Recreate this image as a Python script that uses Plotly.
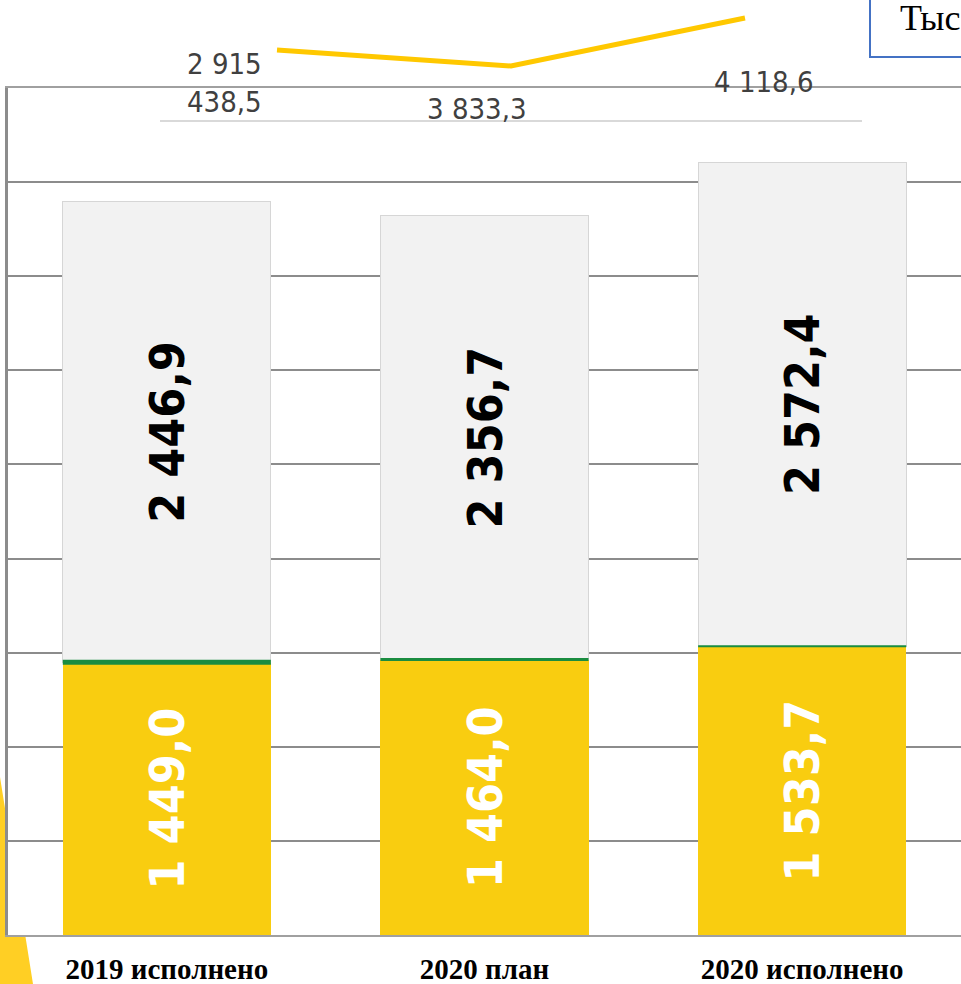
import plotly.graph_objects as go

# ---- data ----
categories = ["2019 исполнено", "2020 план", "2020 исполнено"]
own_revenue = [1449.0, 1464.0, 1533.7]          # yellow (bottom) segment
transfers = [2446.9, 2356.7, 2572.4]            # white (top) segment
line_values = [3928.0, 3833.3, 4118.6]          # yellow line (secondary scale)
line_labels = ["2 915<br>438,5", "3 833,3", "4 118,6"]
unit_label = "Тыс. руб."

# ---- geometry helpers (pixels -> paper) ----
W, H = 961, 984
B = 49
PH = H - B  # plotting height (t=0)


def px(x):
    return x / W


def py(y):
    return (PH - y) / PH


def fmt(v):
    return f"{v:,.1f}".replace(",", " ").replace(".", ",")


BAR_W = 0.655

fig = go.Figure()

fig.add_trace(go.Bar(
    x=categories, y=own_revenue,
    marker=dict(color="#F9CD10", line=dict(width=0)),
    text=[fmt(v) for v in own_revenue],
    textposition="inside", textangle=-90, insidetextanchor="middle",
    textfont=dict(family="DejaVu Sans Condensed", size=48, color="white", weight="bold"),
    showlegend=False, hoverinfo="skip",
))
fig.add_trace(go.Bar(
    x=categories, y=transfers,
    marker=dict(color="#F2F2F2", line=dict(width=1, color="#D6D6D6")),
    text=[fmt(v) for v in transfers],
    textposition="inside", textangle=-90, insidetextanchor="middle",
    textfont=dict(family="DejaVu Sans Condensed", size=48, color="black", weight="bold"),
    showlegend=False, hoverinfo="skip",
))

fig.add_trace(go.Scatter(
    x=categories, y=line_values, xaxis="x2", yaxis="y2",
    mode="lines", line=dict(color="#FFC800", width=5),
    showlegend=False, hoverinfo="skip",
))

# green separators at the top of the yellow segment
sep_widths = [5, 3, 2]
shapes = []
for i, v in enumerate(own_revenue):
    shapes.append(dict(type="line", xref="x", yref="y",
                       x0=i - BAR_W / 2, x1=i + BAR_W / 2, y0=v, y1=v,
                       line=dict(color="#1A8C40", width=sep_widths[i]), layer="above"))

# decorative yellow triangle (outside plot area)
tri = [(0, 777), (8, 827), (8, 935), (25.2, 935), (33, 984), (0, 984)]
path = "M " + " L ".join(f"{px(a):.5f},{py(b):.5f}" for a, b in tri) + " Z"
shapes.append(dict(type="path", xref="paper", yref="paper", path=path,
                   fillcolor="#FFCF24", line=dict(width=0), layer="below"))

# unit box
shapes.append(dict(type="rect", xref="paper", yref="paper",
                   x0=px(870), x1=px(990), y0=py(57), y1=py(-20),
                   line=dict(color="#4472C4", width=2), fillcolor="white", layer="above"))

annotations = [dict(xref="paper", yref="paper", x=px(898), y=py(18), xanchor="left", yanchor="middle",
                    text=unit_label, showarrow=False,
                    font=dict(family="Liberation Serif", size=36, color="black"))]

shifts = [(-53, -33), (-34, -43), (19, -64)]
for i, (c, v, t) in enumerate(zip(categories, line_values, line_labels)):
    annotations.append(dict(xref="x2", yref="y2", x=c, y=v, text=t, showarrow=False,
                            xshift=shifts[i][0], yshift=shifts[i][1],
                            xanchor="center", yanchor="middle", align="center",
                            font=dict(family="DejaVu Sans Condensed", size=29, color="#404040")))

fig.update_layout(
    width=W, height=H,
    margin=dict(l=0, r=0, t=0, b=B, pad=0, autoexpand=False),
    paper_bgcolor="white", plot_bgcolor="rgba(0,0,0,0)",
    barmode="stack", bargap=1 - BAR_W,
    xaxis=dict(domain=[px(8), 1], type="category", showgrid=False, automargin=False,
               showline=True, linecolor="#A0A0A0", linewidth=2, mirror=True,
               ticks="", tickfont=dict(family="Liberation Serif", size=29, color="black", weight="bold"),
               ticklabelstandoff=7),
    yaxis=dict(domain=[0, py(88)], range=[0, 4500], dtick=500, automargin=False,
               showgrid=True, gridcolor="#8C8C8C", gridwidth=2,
               showline=True, linecolor="#8C8C8C", linewidth=3,
               showticklabels=False, zeroline=False, ticks=""),
    xaxis2=dict(domain=[px(160), px(862)], anchor="y2", type="category", range=[-0.5, 2.5],
                showgrid=False, showticklabels=False, ticks="", automargin=False,
                showline=True, linecolor="#D9D9D9", linewidth=2),
    yaxis2=dict(domain=[py(120), 1], anchor="x2", range=[3512.5, 4225.3], visible=False,
                automargin=False),
    shapes=shapes, annotations=annotations,
)

fig.write_html("out.html", config={"displayModeBar": False},
               post_script="document.body.style.margin='0';document.body.style.padding='0';"
                           "document.body.style.overflow='hidden';")
